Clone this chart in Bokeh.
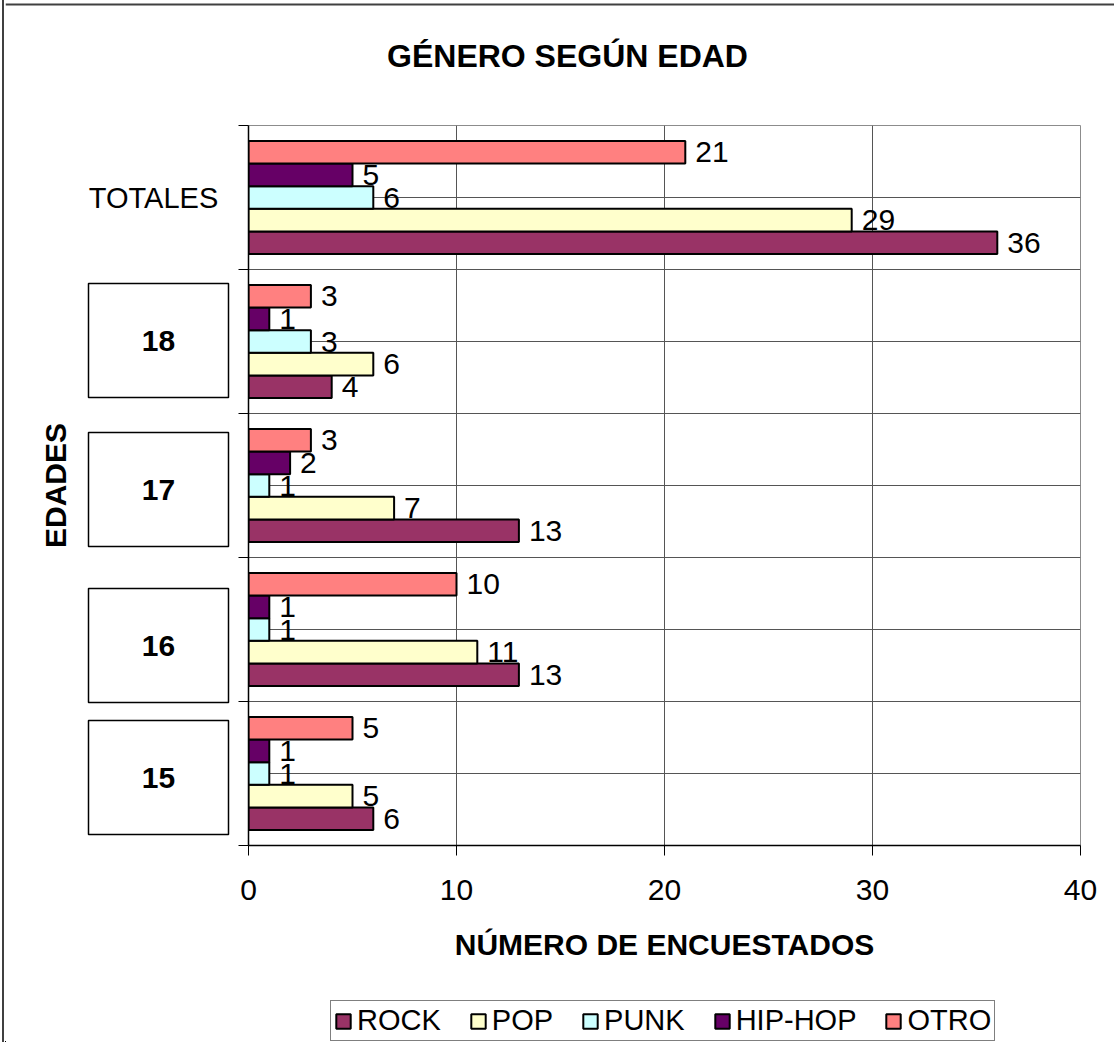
import math
from bokeh.plotting import figure
from bokeh.layouts import column, row
from bokeh.models import Range1d, FixedTicker, Legend, LegendItem, ColumnDataSource, Div
from bokeh.embed import file_html
from bokeh.resources import INLINE
from bokeh.core.properties import value

# ---- data -------------------------------------------------------------
categories = ["15", "16", "17", "18", "TOTALES"]      # bottom -> top
series = ["ROCK", "POP", "PUNK", "HIP-HOP", "OTRO"]
rock = [6, 13, 13, 4, 36]
pop = [5, 11, 7, 6, 29]
punk = [1, 1, 1, 3, 6]
hiphop = [1, 1, 2, 1, 5]
otro = [5, 10, 3, 3, 21]
x_ticks = [0, 10, 20, 30, 40]
colors = ["#993366", "#FFFFCC", "#CCFFFF", "#660066", "#FF8080"]
title_text = "GÉNERO SEGÚN EDAD"
x_title = "NÚMERO DE ENCUESTADOS"
y_title = "EDADES"

values = [rock, pop, punk, hiphop, otro]

FONT = "Liberation Sans"
BORDER = "#404040"
BAR_H = 0.157
W, H = 1114, 1042
EDGE = 5                       # width of the left border strip
H_TOP, H_MID, H_LEG = 120, 864, 58
LEFT_W = 238
NCAT = len(categories)
FRAME_H = 720
CAT_PX = FRAME_H / NCAT
MID_TOP = 5
MID_BOT = H_MID - MID_TOP - FRAME_H


def strip(width, height, xr, yr, top=0, bottom=0):
    f = figure(width=width, height=height, output_backend="svg", toolbar_location=None,
               x_range=xr, y_range=yr, x_axis_location=None, y_axis_location=None,
               min_border_left=0, min_border_right=0, min_border_top=top,
               min_border_bottom=bottom)
    f.outline_line_color = None
    f.grid.visible = False
    f.background_fill_color = "white"
    f.border_fill_color = "white"
    return f


# ---- title strip -------------------------------------------------------
t = strip(W - EDGE, H_TOP, Range1d(EDGE, W), Range1d(0, H_TOP))
t.text(x=[567], y=[H_TOP - 55], text=[title_text], text_align="center",
       text_baseline="middle", text_font=value(FONT), text_font_style="bold",
       text_font_size="32px", text_color="black")
t.hspan(y=[H_TOP - 4], line_color=BORDER, line_width=2)

# ---- main plot -----------------------------------------------------------
p = figure(width=W - LEFT_W, height=H_MID, output_backend="svg", toolbar_location=None,
           x_range=Range1d(0, x_ticks[-1]), y_range=Range1d(0, NCAT),
           min_border_left=10, min_border_right=34, min_border_top=MID_TOP,
           min_border_bottom=MID_BOT)
p.background_fill_color = "white"
p.border_fill_color = "white"
p.outline_line_color = "#8c8c8c"
p.outline_line_width = 1

p.xgrid.ticker = FixedTicker(ticks=x_ticks[1:-1])
p.ygrid.ticker = FixedTicker(ticks=[k / 2 for k in range(1, 2 * NCAT + 1)])
p.grid.grid_line_color = "#555555"
p.grid.grid_line_width = 1

renderers = []
sources = []
for j, (name, vals, col) in enumerate(zip(series, values, colors)):
    ys = [i + 0.5 + (j - 2) * BAR_H for i in range(NCAT)]
    src = ColumnDataSource(dict(y=ys, v=vals, t=[str(v) for v in vals]))
    r = p.hbar(y="y", left=0, right="v", height=BAR_H, source=src,
               fill_color=col, line_color="black", line_width=2)
    renderers.append(r)
    sources.append(src)

for src in sources:
    p.text(x="v", y="y", text="t", source=src, x_offset=10,
           text_baseline="middle", text_align="left",
           text_font=value(FONT), text_font_size="30px", text_color="black")

xa = p.xaxis[0]
xa.ticker = FixedTicker(ticks=x_ticks)
xa.major_label_text_font = FONT
xa.major_label_text_font_size = "30px"
xa.major_label_text_color = "black"
xa.major_label_standoff = 24
xa.major_tick_out = 10
xa.major_tick_in = 0
xa.minor_tick_out = 0
xa.minor_tick_in = 0
xa.axis_line_color = "black"
xa.axis_line_width = 1.5
xa.major_tick_line_color = "black"
xa.axis_label = x_title
xa.axis_label_text_font = FONT
xa.axis_label_text_font_style = "bold"
xa.axis_label_text_font_size = "30px"
xa.axis_label_text_color = "black"
xa.axis_label_standoff = 25

ya = p.yaxis[0]
ya.ticker = FixedTicker(ticks=list(range(NCAT + 1)))
ya.major_label_overrides = {k: "" for k in range(NCAT + 1)}
ya.major_label_standoff = 0
ya.major_tick_out = 10
ya.major_tick_in = 0
ya.minor_tick_out = 0
ya.minor_tick_in = 0
ya.axis_line_color = "black"
ya.axis_line_width = 1.5
ya.major_tick_line_color = "black"

# ---- left strip: category labels and axis title (shares the y scale) --------
lf = strip(LEFT_W - EDGE, H_MID, Range1d(EDGE, LEFT_W), p.y_range,
           top=MID_TOP, bottom=MID_BOT)
lf.text(x=[55], y=[NCAT / 2], text=[y_title], angle=math.pi / 2,
        text_align="center", text_baseline="middle", text_font=value(FONT),
        text_font_style="bold", text_font_size="30px", text_color="black")

shift_px = [-4, -16, -4, 1, 0]
lab_y = [i + 0.5 + shift_px[i] / CAT_PX for i in range(NCAT)]
boxed = [c != "TOTALES" for c in categories]
by = [lab_y[i] for i in range(NCAT) if boxed[i]]
bt = [categories[i] for i in range(NCAT) if boxed[i]]
bx = [158] * len(bt)
lf.rect(x=bx, y=by, width=140, height=114, width_units="screen", height_units="screen",
        fill_color="white", line_color="black", line_width=1.5)
lf.text(x=bx, y=by, text=bt, text_align="center", text_baseline="middle",
        text_font=value(FONT), text_font_style="bold", text_font_size="30px",
        text_color="black")
ti = categories.index("TOTALES")
lf.text(x=[153], y=[lab_y[ti]], text=[categories[ti]],
        text_align="center", text_baseline="middle", text_font=value(FONT),
        text_font_size="29px", text_color="black")

# ---- legend strip (renderers fall outside its ranges; only the legend shows) --
q = strip(W - EDGE, H_LEG, Range1d(1000, 1000 + W - EDGE), Range1d(1000, 1000 + H_LEG))
leg_renderers = []
for src, col in zip(sources, colors):
    leg_renderers.append(q.hbar(y="y", left=0, right="v", height=BAR_H, source=src,
                                fill_color=col, line_color="black", line_width=2))
legend = Legend(items=[LegendItem(label=s, renderers=[r]) for s, r in zip(series, leg_renderers)],
                orientation="horizontal", location=(330 - EDGE, 1))
legend.label_text_font = FONT
legend.label_text_font_size = "29px"
legend.label_text_color = "black"
legend.glyph_width = 18
legend.glyph_height = 18
legend.label_standoff = 5
legend.spacing = 28
legend.padding = 3
legend.margin = 0
legend.border_line_color = "black"
legend.border_line_width = 1
legend.background_fill_color = "white"
q.add_layout(legend)

edge = Div(width=EDGE, height=H, margin=0,
           styles={"background": "linear-gradient(to right, #ffffff 2px, %s 2px, %s 4px, #ffffff 4px)" % (BORDER, BORDER)})

layout = row(edge, column(t, row(lf, p, spacing=0), q, spacing=0), spacing=0)
open("out.html", "w").write(file_html(layout, INLINE))
